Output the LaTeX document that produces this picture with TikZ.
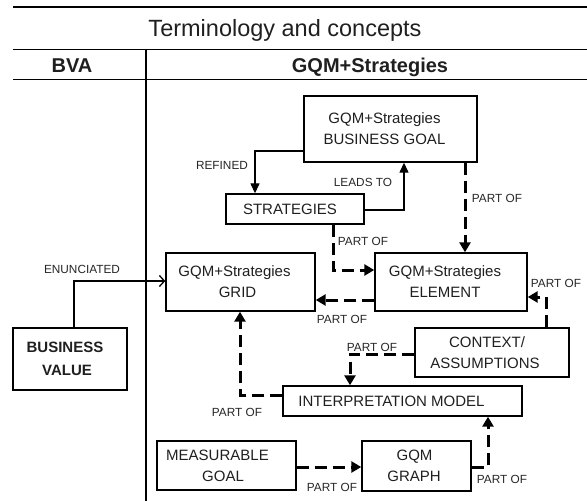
\documentclass[tikz,border=0pt]{standalone}
\usepackage{fontspec}
\setmainfont{Liberation Sans}
\usetikzlibrary{arrows.meta}
\newcommand\padr[1]{\hspace*{#1pt}}
\begin{document}
\begin{tikzpicture}[x=1pt,y=-1pt,
  box/.style={draw, line width=1.4pt, inner sep=0pt, align=center, text=black!88, font=\fontsize{15}{21}\selectfont},
  bbox/.style={box, font=\fontsize{15}{23}\selectfont\bfseries},
  lbl/.style={inner sep=0pt, text=black!85, font=\fontsize{11.8}{13}\selectfont},
  rule/.style={line width=1.5pt},
  solidc/.style={line width=1.3pt, -{Triangle[length=10pt,width=9pt]}},
  openc/.style={line width=1.3pt, -{Straight Barb[length=5pt,width=11pt,line width=1.3pt]}},
  dashc/.style={line width=3pt, dash pattern=on 12pt off 6pt, -{Triangle[length=10pt,width=11pt]}}]
\useasboundingbox (0,0) rectangle (587,501);
% table rules
\draw[rule] (13,7) -- (587,7);
\draw[rule] (13,49.5) -- (587,49.5);
\draw[rule] (13,79.5) -- (587,79.5);
\draw[rule] (146,49.5) -- (146,501);
\node[anchor=base, inner sep=0pt, text=black!88, font=\fontsize{23.5}{26}\selectfont] (title) at (285,36) {Terminology and concepts};
\node[anchor=base, inner sep=0pt, text=black!88, font=\fontsize{20}{24}\selectfont\bfseries] (hbva) at (72,72) {BVA};
\node[anchor=base, inner sep=0pt, text=black!88, font=\fontsize{20}{24}\selectfont\bfseries] (hgqm) at (370,72) {GQM+Strategies};
% boxes
\node[box, minimum width=173pt, minimum height=66pt] (bg) at (390.5,129) {GQM+Strategies\padr{12}\\BUSINESS GOAL\padr{12}};
\node[box, minimum width=138pt, minimum height=30pt] (strat) at (295,209) {STRATEGIES\padr{10}};
\node[box, minimum width=152pt, minimum height=58pt] (el) at (451,282) {GQM+Strategies\padr{12}\\ELEMENT\padr{12}};
\node[box, minimum width=149pt, minimum height=58pt] (grid) at (240.5,282) {GQM+Strategies\padr{12}\\GRID\padr{6}};
\node[box, minimum width=154pt, minimum height=49pt] (ctx) at (492,352.5) {CONTEXT/\padr{10}\\ASSUMPTIONS\padr{14}};
\node[box, minimum width=239pt, minimum height=30pt] (int) at (402.5,401) {INTERPRETATION MODEL\padr{22}};
\node[box, minimum width=139pt, minimum height=49pt] (mg) at (226.5,465.5) {MEASURABLE\padr{18}\\GOAL\padr{7}};
\node[box, minimum width=109pt, minimum height=50pt] (gg) at (416.5,466) {GQM\padr{4}\\GRAPH\padr{5}};
\node[bbox, minimum width=114pt, minimum height=62pt] (bv) at (70,359) {BUSINESS\padr{10}\\VALUE\padr{6}};
% helper coordinates
\coordinate (h151) at (0,151);
\coordinate (h210) at (0,210);
\coordinate (h270) at (0,270);
\coordinate (h281) at (0,281);
\coordinate (h297) at (0,297);
\coordinate (h300) at (0,300);
\coordinate (h354) at (0,354);
\coordinate (h395) at (0,395);
\coordinate (h467) at (0,467);
\coordinate (v74) at (74,0);
\coordinate (v240) at (240,0);
\coordinate (v255) at (255,0);
\coordinate (v333) at (333,0);
\coordinate (v350) at (350,0);
\coordinate (v404) at (404,0);
\coordinate (v465) at (465,0);
\coordinate (v488) at (488,0);
\coordinate (v546) at (546,0);
% connectors
\draw[solidc] (bg.west |- h151) -| (strat.north -| v255);
\draw[solidc] (strat.east |- h210) -| (bg.south -| v404);
\draw[dashc] (bg.south -| v465) -- (el.north -| v465);
\draw[dashc] (strat.south -| v333) |- (el.west |- h270);
\draw[dashc] (el.west |- h300) -- (grid.east |- h300);
\draw[dashc] (ctx.north -| v546) |- (el.east |- h297);
\draw[dashc] (ctx.west |- h354) -| (int.north -| v350);
\draw[dashc] (int.west |- h395) -| (grid.south -| v240);
\draw[dashc] (mg.east |- h467) -- (gg.west |- h467);
\draw[dashc] (gg.east |- h467) -| (int.south -| v488);
\draw[openc] (bv.north -| v74) |- (grid.west |- h281);
% labels
\node[lbl] (lref) at (222,165) {REFINED};
\node[lbl] (llead) at (363,182) {LEADS TO};
\node[lbl] (lp1) at (497,198) {PART OF};
\node[lbl] (lp2) at (363,241) {PART OF};
\node[lbl] (lp3) at (342,319) {PART OF};
\node[lbl] (lp4) at (556,283) {PART OF};
\node[lbl] (lp5) at (372,347) {PART OF};
\node[lbl] (lp6) at (237,412) {PART OF};
\node[lbl] (lp7) at (332,487) {PART OF};
\node[lbl] (lp8) at (502,479) {PART OF};
\node[lbl] (lenun) at (82,269) {ENUNCIATED};
\end{tikzpicture}
\end{document}
